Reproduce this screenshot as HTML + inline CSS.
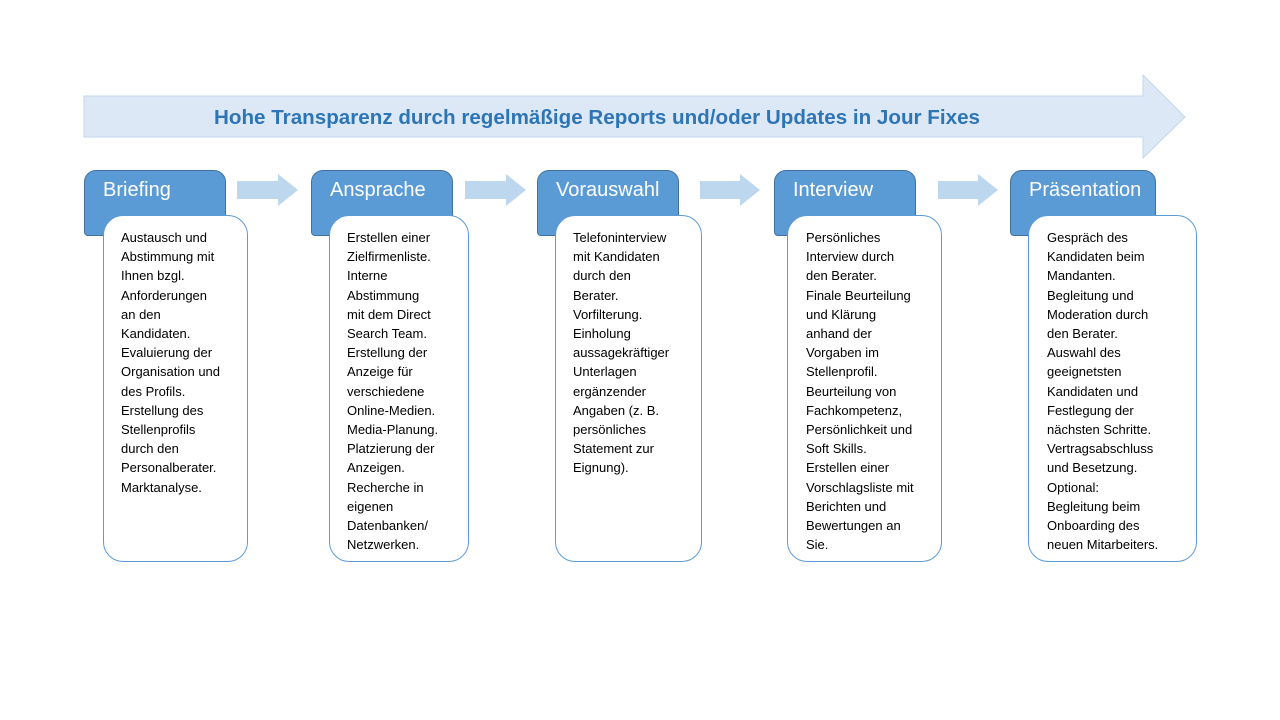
<!DOCTYPE html>
<html><head><meta charset="utf-8"><style>
body{margin:0;width:1280px;height:720px;background:#fff;position:relative;overflow:hidden;font-family:"Liberation Sans",Arial,sans-serif}
.h{position:absolute;top:170px;height:66px;background:#5b9bd5;border:1px solid #41719c;border-radius:12px 12px 4px 4px;box-sizing:border-box;color:#fff;font-size:20px;padding:8px 0 0 18px}
.b{position:absolute;top:215px;height:347px;background:#fff;border:1px solid #5b9bd5;border-radius:20px;box-sizing:border-box;font-size:13px;line-height:19.2px;color:#000;padding:12px 0 0 17px;white-space:nowrap}
</style></head><body>
<svg width="1280" height="720" style="position:absolute;left:0;top:0">
<polygon points="84,96 1143,96 1143,75 1185,117 1143,158 1143,137 84,137" fill="#dce8f5" stroke="#c3d7ee" stroke-width="1"/>
<g fill="#bdd7ee">
<polygon points="237,181 278,181 278,174 298,190 278,206 278,199 237,199"/>
<polygon points="465,181 506,181 506,174 526,190 506,206 506,199 465,199"/>
<polygon points="700,181 740,181 740,174 760,190 740,206 740,199 700,199"/>
<polygon points="938,181 978,181 978,174 998,190 978,206 978,199 938,199"/>
</g>
<text x="214" y="124" textLength="766" lengthAdjust="spacingAndGlyphs" font-family="Liberation Sans, Arial, sans-serif" font-size="20" font-weight="bold" fill="#2e75b6">Hohe Transparenz durch regelmäßige Reports und/oder Updates in Jour Fixes</text>
</svg>
<div class="h" style="left:84px;width:142px">Briefing</div>
<div class="b" style="left:103px;width:145px">Austausch und<br>Abstimmung mit<br>Ihnen bzgl.<br>Anforderungen<br>an den<br>Kandidaten.<br>Evaluierung der<br>Organisation und<br>des Profils.<br>Erstellung des<br>Stellenprofils<br>durch den<br>Personalberater.<br>Marktanalyse.</div>
<div class="h" style="left:311px;width:142px">Ansprache</div>
<div class="b" style="left:329px;width:140px">Erstellen einer<br>Zielfirmenliste.<br>Interne<br>Abstimmung<br>mit dem Direct<br>Search Team.<br>Erstellung der<br>Anzeige für<br>verschiedene<br>Online-Medien.<br>Media-Planung.<br>Platzierung der<br>Anzeigen.<br>Recherche in<br>eigenen<br>Datenbanken/<br>Netzwerken.</div>
<div class="h" style="left:537px;width:142px">Vorauswahl</div>
<div class="b" style="left:555px;width:147px">Telefoninterview<br>mit Kandidaten<br>durch den<br>Berater.<br>Vorfilterung.<br>Einholung<br>aussagekräftiger<br>Unterlagen<br>ergänzender<br>Angaben (z. B.<br>persönliches<br>Statement zur<br>Eignung).</div>
<div class="h" style="left:774px;width:142px">Interview</div>
<div class="b" style="left:787px;width:155px;padding-left:18px">Persönliches<br>Interview durch<br>den Berater.<br>Finale Beurteilung<br>und Klärung<br>anhand der<br>Vorgaben im<br>Stellenprofil.<br>Beurteilung von<br>Fachkompetenz,<br>Persönlichkeit und<br>Soft Skills.<br>Erstellen einer<br>Vorschlagsliste mit<br>Berichten und<br>Bewertungen an<br>Sie.</div>
<div class="h" style="left:1010px;width:146px">Präsentation</div>
<div class="b" style="left:1028px;width:169px;padding-left:18px">Gespräch des<br>Kandidaten beim<br>Mandanten.<br>Begleitung und<br>Moderation durch<br>den Berater.<br>Auswahl des<br>geeignetsten<br>Kandidaten und<br>Festlegung der<br>nächsten Schritte.<br>Vertragsabschluss<br>und Besetzung.<br>Optional:<br>Begleitung beim<br>Onboarding des<br>neuen Mitarbeiters.</div>
</body></html>
